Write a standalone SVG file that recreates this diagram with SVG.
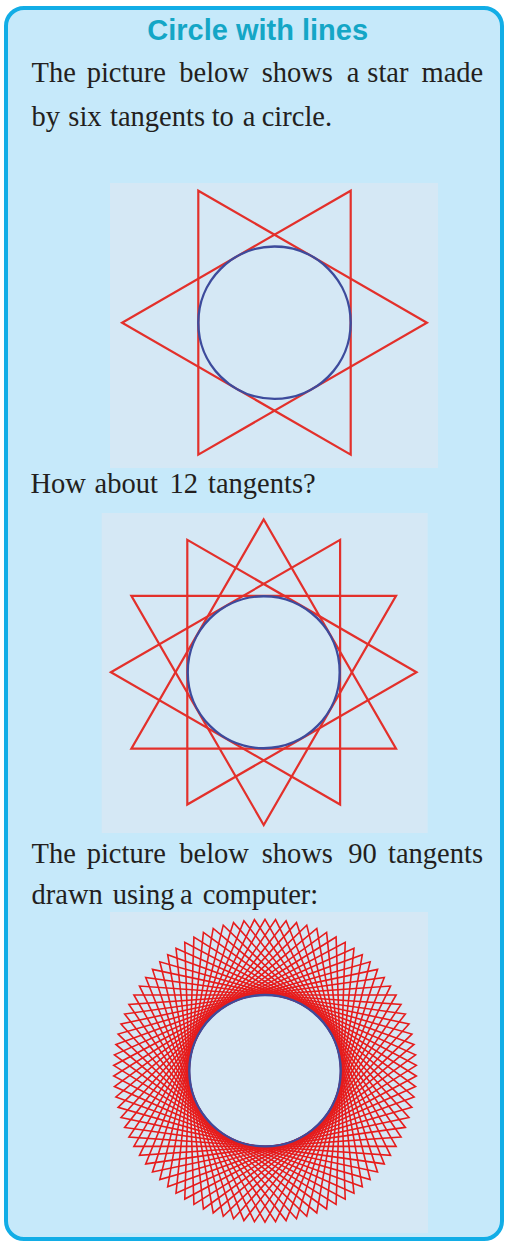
<svg xmlns="http://www.w3.org/2000/svg" xmlns:xlink="http://www.w3.org/1999/xlink" width="507" height="1244" viewBox="0 0 507 1244">
<style>
.body{font-family:"Liberation Serif","Times New Roman",serif;font-size:28.5px;fill:#231f20}
.title{font-family:"Liberation Sans",Arial,sans-serif;font-weight:bold;font-size:29px;fill:#14a6c6}
.pic{fill:#d5e8f5}
.tan{fill:none;stroke:#e3302b;stroke-width:2.2;stroke-linejoin:miter}
.tan90{fill:none;stroke:#e61c1c;stroke-width:1.6;stroke-linejoin:miter}
.circ{fill:none;stroke:#3d4b9c;stroke-width:2.4}
</style>
<defs>
<polygon id="tri" points="0,-151.4 131.1,75.7 -131.1,75.7"/>
</defs>
<rect id="panel" x="6" y="8" width="496" height="1231" rx="18" ry="18" fill="#c6e9fa" stroke="#12ade6" stroke-width="4"/>
<text id="title" class="title" x="257.7" y="39.5" text-anchor="middle">Circle with lines</text>
<g id="para1" class="body">
<text y="82.3"><tspan x="31.5">The</tspan><tspan x="86.7">picture</tspan><tspan x="179.3">below</tspan><tspan x="261.7">shows</tspan><tspan x="346.7">a</tspan><tspan x="367.3">star</tspan><tspan x="421.5">made</tspan></text>
<text y="125.7"><tspan x="31.5">by</tspan><tspan x="68.3">six</tspan><tspan x="110">tangents</tspan><tspan x="211.7">to</tspan><tspan x="242.7">a</tspan><tspan x="261.7">circle.</tspan></text>
</g>
<g id="star6">
<rect class="pic" x="110" y="183" width="328" height="285"/>
<polygon class="tan" points="122.1,322.7 350.7,190.7 350.7,454.7"/>
<polygon class="tan" points="426.9,322.7 198.3,190.7 198.3,454.7"/>
<circle class="circ" cx="274.5" cy="322.7" r="76.2"/>
</g>
<g id="para2" class="body">
<text y="493.3"><tspan x="30.5">How</tspan><tspan x="94.5">about</tspan><tspan x="169.5">12</tspan><tspan x="208">tangents?</tspan></text>
</g>
<g id="star12">
<rect class="pic" x="101.7" y="513" width="326" height="320"/>
<polygon class="tan" points="263.7,519.4 131.37,748.6 396.03,748.6"/>
<polygon class="tan" points="263.7,825 131.37,595.8 396.03,595.8"/>
<polygon class="tan" points="110.9,672.2 340.1,539.87 340.1,804.53"/>
<polygon class="tan" points="416.5,672.2 187.3,539.87 187.3,804.53"/>
<circle class="circ" cx="263.7" cy="672.2" r="76"/>
</g>
<g id="para3" class="body">
<text y="863.3"><tspan x="31.5">The</tspan><tspan x="86.7">picture</tspan><tspan x="179.3">below</tspan><tspan x="261.7">shows</tspan><tspan x="348.3">90</tspan><tspan x="388">tangents</tspan></text>
<text y="904"><tspan x="31.5">drawn</tspan><tspan x="112.7">using</tspan><tspan x="180">a</tspan><tspan x="202.7">computer:</tspan></text>
</g>
<g id="star90">
<rect class="pic" x="110" y="912" width="318" height="321"/>
<g class="tan90" transform="translate(265 1070.7)">
<use xlink:href="#tri" transform="rotate(0)"/>
<use xlink:href="#tri" transform="rotate(4)"/>
<use xlink:href="#tri" transform="rotate(8)"/>
<use xlink:href="#tri" transform="rotate(12)"/>
<use xlink:href="#tri" transform="rotate(16)"/>
<use xlink:href="#tri" transform="rotate(20)"/>
<use xlink:href="#tri" transform="rotate(24)"/>
<use xlink:href="#tri" transform="rotate(28)"/>
<use xlink:href="#tri" transform="rotate(32)"/>
<use xlink:href="#tri" transform="rotate(36)"/>
<use xlink:href="#tri" transform="rotate(40)"/>
<use xlink:href="#tri" transform="rotate(44)"/>
<use xlink:href="#tri" transform="rotate(48)"/>
<use xlink:href="#tri" transform="rotate(52)"/>
<use xlink:href="#tri" transform="rotate(56)"/>
<use xlink:href="#tri" transform="rotate(60)"/>
<use xlink:href="#tri" transform="rotate(64)"/>
<use xlink:href="#tri" transform="rotate(68)"/>
<use xlink:href="#tri" transform="rotate(72)"/>
<use xlink:href="#tri" transform="rotate(76)"/>
<use xlink:href="#tri" transform="rotate(80)"/>
<use xlink:href="#tri" transform="rotate(84)"/>
<use xlink:href="#tri" transform="rotate(88)"/>
<use xlink:href="#tri" transform="rotate(92)"/>
<use xlink:href="#tri" transform="rotate(96)"/>
<use xlink:href="#tri" transform="rotate(100)"/>
<use xlink:href="#tri" transform="rotate(104)"/>
<use xlink:href="#tri" transform="rotate(108)"/>
<use xlink:href="#tri" transform="rotate(112)"/>
<use xlink:href="#tri" transform="rotate(116)"/>
</g>
<circle class="circ" cx="265" cy="1070.7" r="75.7"/>
</g>
</svg>
